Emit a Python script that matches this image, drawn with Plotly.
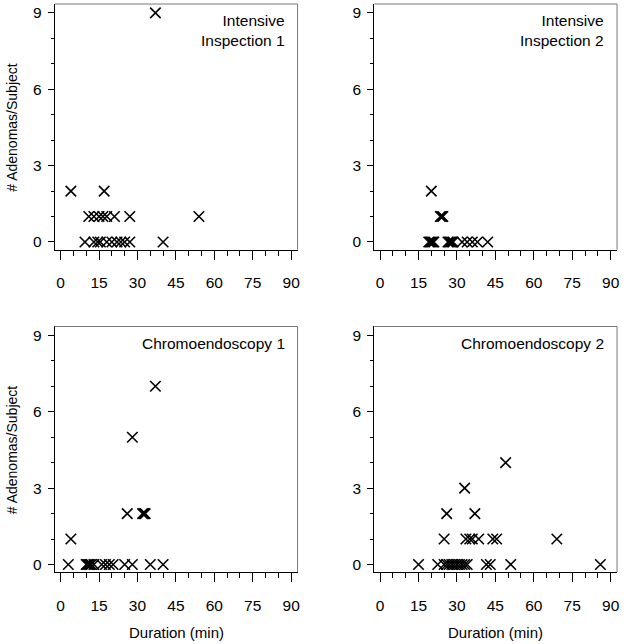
import plotly.graph_objects as go

# ---- data (duration in minutes, adenomas per subject) ----
ii1_dur = [37, 4, 17, 11, 13, 15, 16.5, 18, 21, 27, 54,
           9.5, 13, 14.5, 15.5, 18, 20, 22, 23.5, 25, 27, 40]
ii1_ade = [9, 2, 2, 1, 1, 1, 1, 1, 1, 1, 1,
           0, 0, 0, 0, 0, 0, 0, 0, 0, 0, 0]

ii2_dur = [20, 23.5, 24, 24.5,
           19, 19.5, 20, 20.5, 21, 26.5, 27, 27.5, 28, 28.5, 32, 34, 36, 38, 42]
ii2_ade = [2, 1, 1, 1,
           0, 0, 0, 0, 0, 0, 0, 0, 0, 0, 0, 0, 0, 0, 0]

ch1_dur = [37, 28, 26, 32, 32.5, 33, 4,
           3, 10, 10.5, 11, 11.5, 12, 13, 16, 17.5, 19, 20.5, 25, 28, 35, 40]
ch1_ade = [7, 5, 2, 2, 2, 2, 1,
           0, 0, 0, 0, 0, 0, 0, 0, 0, 0, 0, 0, 0, 0, 0]

ch2_dur = [49, 33, 26, 37, 25, 33.5, 35, 36, 38.5, 44, 45.5, 69,
           15, 22.5, 25, 26, 27, 28, 29, 30, 31, 32, 33, 34, 41.5, 43, 51, 86]
ch2_ade = [4, 3, 2, 2, 1, 1, 1, 1, 1, 1, 1, 1,
           0, 0, 0, 0, 0, 0, 0, 0, 0, 0, 0, 0, 0, 0, 0, 0]

panel_titles = ["Intensive<br>Inspection 1", "Intensive<br>Inspection 2",
                "Chromoendoscopy 1", "Chromoendoscopy 2"]
x_ticks = [0, 15, 30, 45, 60, 75, 90]
y_ticks = [0, 3, 6, 9]
x_title = "Duration (min)"
y_title = "# Adenomas/Subject"

W, H = 629, 644
FONT = "Liberation Sans, Arial, Helvetica, sans-serif"

series = [(ii1_dur, ii1_ade), (ii2_dur, ii2_ade), (ch1_dur, ch1_ade), (ch2_dur, ch2_ade)]
xdoms = [(55, 299), (376, 620)]      # pixels, left/right
ydoms = [(4, 250), (327, 573)]       # pixels, top/bottom


def px_x(v):
    return v / W


def px_y(v):
    return (H - v) / H


fig = go.Figure()
layout = dict(width=W, height=H, margin=dict(l=0, r=0, t=0, b=0),
              plot_bgcolor="white", paper_bgcolor="white", showlegend=False,
              font=dict(family=FONT, size=15, color="black"))
annotations = []
shapes = []
for i, (xs, ys) in enumerate(series):
    n = i + 1
    sfx = "" if n == 1 else str(n)
    col = i % 2
    row = i // 2
    x0p, x1p = xdoms[col]
    ytp, ybp = ydoms[row]
    xd = [px_x(x0p), px_x(x1p)]
    yd = [px_y(ybp), px_y(ytp)]
    fig.add_trace(go.Scatter(x=xs, y=ys, mode="markers", xaxis="x" + sfx, yaxis="y" + sfx,
                             marker=dict(symbol="x-thin-open", size=10.5, color="black",
                                         line=dict(color="black", width=1.6)),
                             hoverinfo="x+y"))
    layout["xaxis" + sfx] = dict(domain=xd, anchor="y" + sfx, range=[-2.3, 92.5],
                                 tickvals=x_ticks, ticks="outside", ticklen=9, tickwidth=1,
                                 tickcolor="black", showline=True, linecolor="black",
                                 linewidth=1, showgrid=False, zeroline=False,
                                 tickfont=dict(size=15.5), ticklabelstandoff=10,
                                 minor=dict(dtick=5, tick0=0, ticks="outside", ticklen=5,
                                            tickcolor="black", showgrid=False))
    layout["yaxis" + sfx] = dict(domain=yd, anchor="x" + sfx, range=[-0.3, 9.35],
                                 tickvals=y_ticks, ticks="outside", ticklen=6, tickwidth=1,
                                 tickcolor="black", showline=True, linecolor="black",
                                 linewidth=1, showgrid=False, zeroline=False,
                                 tickfont=dict(size=15.5), ticklabelstandoff=3,
                                 minor=dict(dtick=1, tick0=0, ticks="outside", ticklen=3,
                                            tickcolor="black", showgrid=False))
    # top and right frame lines
    shapes.append(dict(type="line", xref="x" + sfx + " domain", yref="y" + sfx + " domain",
                       x0=0, x1=1, y0=1, y1=1, line=dict(color="#777", width=1)))
    shapes.append(dict(type="line", xref="x" + sfx + " domain", yref="y" + sfx + " domain",
                       x0=1, x1=1, y0=0, y1=1, line=dict(color="#777", width=1)))
    annotations.append(dict(text=panel_titles[i], xref="x" + sfx + " domain",
                            yref="y" + sfx + " domain", x=0.955, y=0.975,
                            xanchor="right", yanchor="top", align="right",
                            showarrow=False, font=dict(size=15.5)))
    if col == 0:
        annotations.append(dict(text=y_title, xref="paper", yref="paper",
                                x=px_x(12), y=sum(yd) / 2, textangle=-90,
                                xanchor="center", yanchor="middle", showarrow=False,
                                font=dict(size=14)))
    if row == 1:
        annotations.append(dict(text=x_title, xref="paper", yref="paper",
                                x=sum(xd) / 2, y=px_y(633),
                                xanchor="center", yanchor="middle", showarrow=False,
                                font=dict(size=15)))

layout["annotations"] = annotations
layout["shapes"] = shapes
fig.update_layout(**layout)
fig.write_html("out.html", config={"displayModeBar": False},
               post_script="document.body.style.margin='0px';document.body.style.overflow='hidden';")
